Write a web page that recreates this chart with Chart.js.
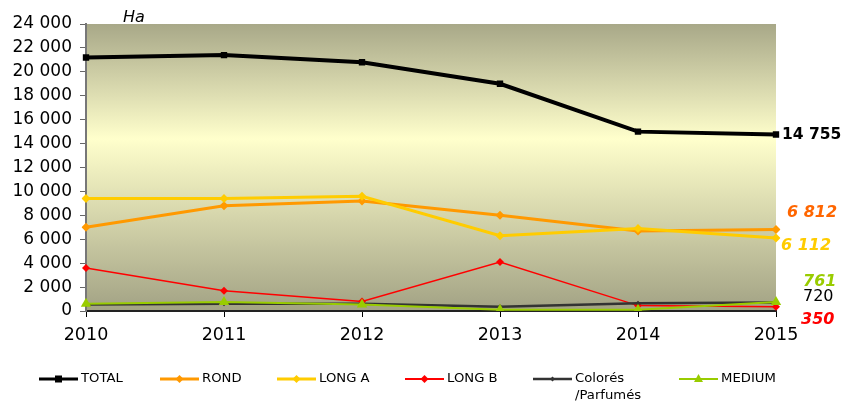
<!DOCTYPE html>
<html><head><meta charset="utf-8">
<script src="https://cdn.jsdelivr.net/npm/chart.js@4/dist/chart.umd.min.js"></script>
<style>html,body{margin:0;padding:0;background:#fff;}#wrap{position:relative;width:843px;height:401px;}</style>
</head><body><div id="wrap"><canvas id="c" width="843" height="401"></canvas></div>
<script>
const years = ['2010','2011','2012','2013','2014','2015'];
const total = [21200, 21400, 20800, 19000, 15000, 14755];
const rond = [7000, 8800, 9200, 8000, 6700, 6812];
const longA = [9400, 9400, 9600, 6300, 6900, 6112];
const longB = [3600, 1700, 800, 4100, 450, 350];
const colores = [550, 600, 600, 350, 650, 720];
const medium = [600, 750, 550, 100, 100, 761];
const yTicks = [0,2000,4000,6000,8000,10000,12000,14000,16000,18000,20000,22000,24000];

const fmt = v => String(v).replace(/\B(?=(\d{3})+(?!\d))/g, ' ');
const FAM = '"DejaVu Sans", Verdana, sans-serif';

const series = [
  {label:'TOTAL', data: total, color:'#000000', w:4, pt:'rect', r:4.5},
  {label:'ROND', data: rond, color:'#ff9900', w:3, pt:'rectRot', r:4.5},
  {label:'LONG A', data: longA, color:'#ffcc00', w:3, pt:'rectRot', r:4.5},
  {label:'LONG B', data: longB, color:'#ff0000', w:1.5, pt:'rectRot', r:4},
  {label:'Colorés/Parfumés', data: colores, color:'#333333', w:2.5, pt:'rectRot', r:2.5},
  {label:'MEDIUM', data: medium, color:'#99cc00', w:2, pt:'triangle', r:6},
];

const endLabels = [
  {text: fmt(total[5]), v: total[5], x: 782, dy: 0, color:'#000000', font:'bold 15.5px ' + FAM},
  {text: fmt(rond[5]), v: rond[5], x: 787, dy: -17, color:'#ff6600', font:'italic bold 16px ' + FAM},
  {text: fmt(longA[5]), v: longA[5], x: 781, dy: 8, color:'#ffcc00', font:'italic bold 16px ' + FAM},
  {text: fmt(medium[5]), v: medium[5], x: 803, dy: -20, color:'#99cc00', font:'italic bold 16px ' + FAM},
  {text: fmt(colores[5]), v: colores[5], x: 803, dy: -6, color:'#000000', font:'16px ' + FAM},
  {text: fmt(longB[5]), v: longB[5], x: 801, dy: 13, color:'#ff0000', font:'italic bold 16px ' + FAM},
];

const bgPlugin = {
  id:'bg',
  beforeDraw(chart){
    const {ctx, chartArea:a} = chart;
    const g = ctx.createLinearGradient(0, a.top, 0, a.bottom);
    g.addColorStop(0, '#a8a888');
    g.addColorStop(0.4, '#ffffcc');
    g.addColorStop(1, '#a2a284');
    ctx.save(); ctx.fillStyle = g; ctx.fillRect(a.left, a.top, a.right-a.left, a.bottom-a.top); ctx.restore();
  },
  afterDraw(chart){
    const {ctx, chartArea:a, scales} = chart;
    ctx.save();
    ctx.font = 'italic 16px ' + FAM;
    ctx.fillStyle = '#000'; ctx.textBaseline='middle'; ctx.textAlign='left';
    ctx.fillText('Ha', a.left + 37, 18);
    endLabels.forEach(l => {
      ctx.font = l.font; ctx.fillStyle = l.color;
      ctx.fillText(l.text, l.x, scales.y.getPixelForValue(l.v) + l.dy);
    });
    // legend
    const lx = [39, 160, 277, 405, 533, 679];
    const ly = 379;
    series.forEach((s, i) => {
      const x0 = lx[i];
      ctx.strokeStyle = s.color; ctx.lineWidth = Math.min(3, Math.max(2, s.w)); ctx.fillStyle = s.color;
      ctx.beginPath(); ctx.moveTo(x0, ly); ctx.lineTo(x0+39, ly); ctx.stroke();
      const cx = x0 + 19.5;
      ctx.beginPath();
      if (s.pt === 'rect') { ctx.rect(cx-3.5, ly-3.5, 7, 7); }
      else if (s.pt === 'triangle') { ctx.moveTo(cx, ly-5); ctx.lineTo(cx+4.5, ly+3); ctx.lineTo(cx-4.5, ly+3); ctx.closePath(); }
      else { const r = s.r>3?4:2.5; ctx.moveTo(cx, ly-r); ctx.lineTo(cx+r, ly); ctx.lineTo(cx, ly+r); ctx.lineTo(cx-r, ly); ctx.closePath(); }
      ctx.fill();
      ctx.fillStyle = '#000';
      ctx.font = '12px ' + FAM;
      const lines = i === 4 ? ['Colorés', '/Parfumés'] : [s.label];
      lines.forEach((t, k) => {
        ctx.save();
        ctx.translate(x0 + 42, ly + k*17);
        ctx.scale(1.1, 1);
        ctx.fillText(t, 0, 0);
        ctx.restore();
      });
    });
    ctx.restore();
  }
};

new Chart(document.getElementById('c'), {
  type:'line',
  data:{
    labels: years,
    datasets: series.map(s => ({
      label: s.label, data: s.data, borderColor: s.color, backgroundColor: s.color,
      borderWidth: s.w, pointStyle: s.pt, pointRadius: s.r, pointHoverRadius: s.r,
      pointBorderWidth: 0, tension: 0, fill: false
    })).reverse()
  },
  options:{
    responsive:false, animation:false,
    layout:{padding:{left:0, right:67, top:24, bottom:0}},
    plugins:{legend:{display:false}, tooltip:{enabled:false}},
    scales:{
      x:{
        type:'category', offset:false,
        grid:{display:true, drawOnChartArea:false, drawTicks:true, tickLength:6, color:'#000'},
        border:{display:true, color:'#222', width:2},
        ticks:{color:'#000', font:{family:FAM, size:17.5}, padding:8, maxRotation:0},
        afterFit(s){ s.height = 401 - 311; }
      },
      y:{
        min:0, max:24000,
        afterBuildTicks(s){ s.ticks = yTicks.map(v => ({value:v})); },
        grid:{display:true, drawOnChartArea:false, drawTicks:true, tickLength:6, color:'#666'},
        border:{display:true, color:'#777', width:2},
        ticks:{color:'#000', font:{family:FAM, size:17}, padding:8, callback: v => fmt(v)},
        afterFit(s){ s.width = 86; }
      }
    }
  },
  plugins:[bgPlugin]
});
</script></body></html>
